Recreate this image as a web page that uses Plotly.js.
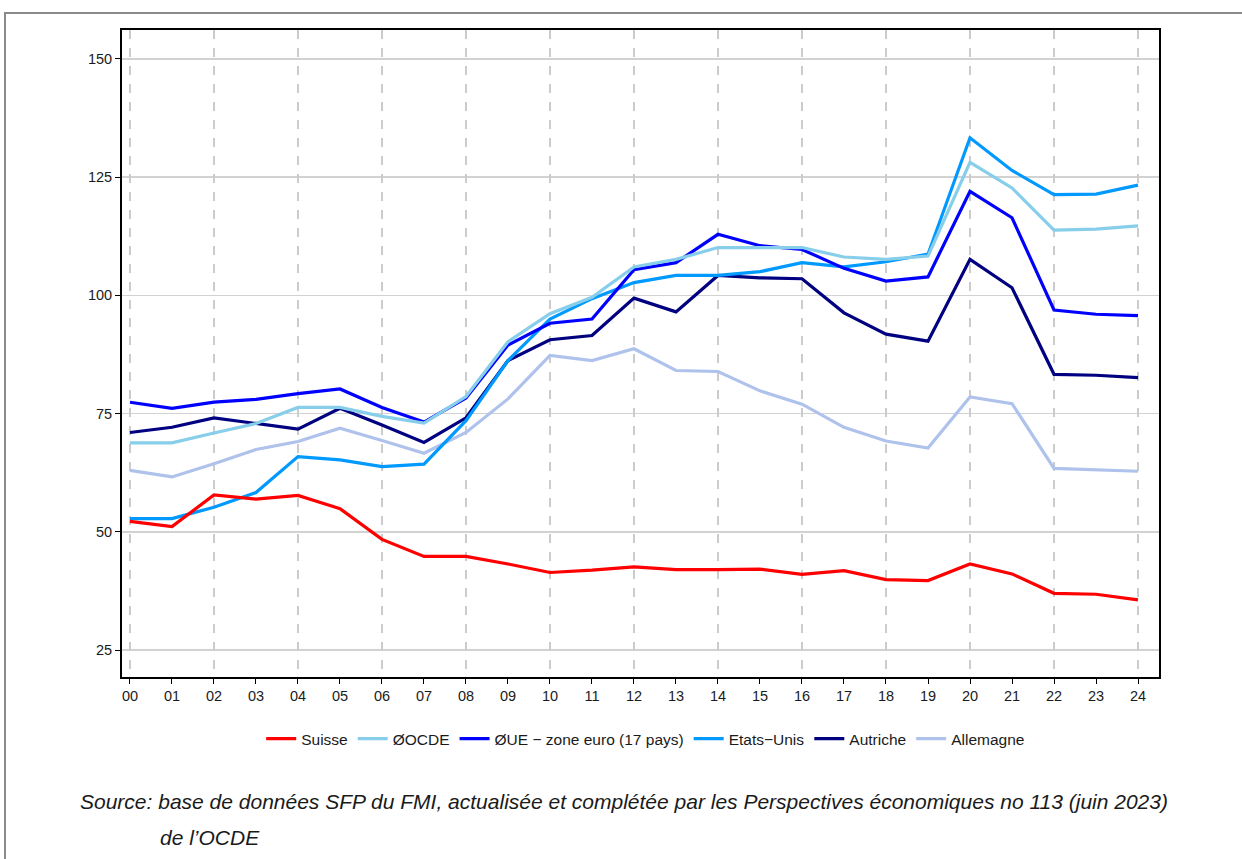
<!DOCTYPE html>
<html>
<head>
<meta charset="utf-8">
<script src="https://cdn.plot.ly/plotly-3.0.1.min.js"></script>
<style>
  html, body { margin:0; padding:0; background:#fff; }
  #wrap { position:relative; width:1242px; height:859px; }
  #chart { position:absolute; left:0; top:0; width:1242px; height:859px; }
  #frame { position:absolute; left:4px; top:12px; width:1238px; height:847px;
           border-top:2px solid #8a8a8a; border-left:2px solid #8a8a8a; box-sizing:border-box; pointer-events:none; }
</style>
</head>
<body>
<div id="wrap"><div id="chart"></div><div id="frame"></div></div>
<script>
const years = ["00","01","02","03","04","05","06","07","08","09","10","11","12","13","14","15","16","17","18","19","20","21","22","23","24"];
const gridYears = ["00","02","04","06","08","10","12","14","16","18","20","22","24"];
const yTicks = [25, 50, 75, 100, 125, 150];

const suisse    = [52.2, 51.1, 57.8, 56.9, 57.7, 54.9, 48.4, 44.8, 44.8, 43.2, 41.4, 41.9, 42.6, 42.0, 42.0, 42.1, 41.0, 41.8, 39.9, 39.7, 43.2, 41.1, 37.0, 36.8, 35.6];
const ocde      = [68.8, 68.8, 70.9, 72.9, 76.3, 76.3, 74.4, 73.0, 78.6, 90.2, 96.1, 99.6, 106.0, 107.6, 110.1, 110.1, 110.1, 108.1, 107.6, 108.3, 128.1, 122.7, 113.8, 114.0, 114.7];
const ue        = [77.4, 76.1, 77.4, 78.0, 79.2, 80.2, 76.3, 73.2, 78.3, 89.5, 94.1, 95.0, 105.4, 106.9, 112.9, 110.5, 109.7, 105.7, 103.0, 103.9, 122.0, 116.4, 96.9, 96.0, 95.7];
const etatsUnis = [52.8, 52.8, 55.2, 58.3, 65.9, 65.2, 63.8, 64.3, 73.5, 86.2, 95.0, 99.3, 102.7, 104.2, 104.2, 105.0, 106.9, 106.0, 107.1, 108.7, 133.3, 126.4, 121.3, 121.4, 123.3];
const autriche  = [71.0, 72.1, 74.1, 72.9, 71.7, 76.1, 72.6, 68.9, 74.1, 86.2, 90.6, 91.5, 99.4, 96.5, 104.2, 103.7, 103.5, 96.3, 91.8, 90.3, 107.6, 101.6, 83.3, 83.1, 82.6];
const allemagne = [63.0, 61.6, 64.4, 67.4, 69.1, 71.9, 69.3, 66.6, 71.0, 78.1, 87.3, 86.2, 88.7, 84.1, 83.9, 79.8, 77.0, 72.1, 69.2, 67.7, 78.5, 77.1, 63.4, 63.1, 62.8];

const seriesNames = ["Suisse", "ØOCDE", "ØUE − zone euro (17 pays)", "Etats−Unis", "Autriche", "Allemagne"];
const seriesData  = [suisse, ocde, ue, etatsUnis, autriche, allemagne];
const seriesColors = ["#ff0000", "#87ceeb", "#0000ff", "#0099ff", "#000080", "#afc2ec"];

const FONT = "Liberation Sans, Arial, Helvetica, sans-serif";

const traces = [];
// invisible trace on x2 to enable the dashed vertical grid every two years
traces.push({x: years, y: years.map(() => null), xaxis: "x2", yaxis: "y", mode: "lines",
             showlegend: false, hoverinfo: "skip"});
for (let i = seriesNames.length - 1; i >= 0; i--) {
  traces.push({
    x: years, y: seriesData[i], name: seriesNames[i], type: "scatter", mode: "lines",
    line: {color: seriesColors[i], width: 3.2}
  });
}

const xr = [-0.19, 24.5];
const layout = {
  width: 1242, height: 859,
  margin: {l: 122, r: 83, t: 30, b: 182},
  paper_bgcolor: "#ffffff", plot_bgcolor: "#ffffff",
  font: {family: FONT, size: 14, color: "#1a1a1a"},
  showlegend: true,
  legend: {orientation: "h", x: 0.505, xanchor: "center", y: -0.096, yanchor: "middle",
           traceorder: "reversed", font: {family: FONT, size: 15.5, color: "#1a1a1a"},
           itemwidth: 30, tracegroupgap: 0},
  xaxis: {type: "category", range: xr, showgrid: false, zeroline: false,
          showline: true, linecolor: "#000", linewidth: 2, mirror: true,
          ticks: "outside", ticklen: 5, tickwidth: 1, tickcolor: "#000",
          tickfont: {family: FONT, size: 14.5, color: "#1a1a1a"}},
  xaxis2: {type: "category", overlaying: "x", range: xr, tickmode: "array", tickvals: gridYears,
           showticklabels: false, ticks: "", showgrid: true, gridcolor: "#cccccc",
           griddash: "dash", gridwidth: 1.5, zeroline: false, showline: false, layer: "below traces"},
  yaxis: {range: [19.3, 156.1], tickmode: "array", tickvals: yTicks, showgrid: true,
          gridcolor: "#d2d2d2", gridwidth: 1.5, zeroline: false,
          showline: true, linecolor: "#000", linewidth: 2, mirror: true,
          ticks: "outside", ticklen: 5, tickwidth: 1, tickcolor: "#000",
          tickfont: {family: FONT, size: 14.5, color: "#1a1a1a"}},
  annotations: [
    {text: "<i>Source: base de données SFP du FMI, actualisée et complétée par les Perspectives économiques no 113 (juin 2023)</i>",
     xref: "paper", yref: "paper", x: -0.0424, y: -0.1917, xanchor: "left", yanchor: "middle",
     showarrow: false, font: {family: FONT, size: 21, color: "#1a1a1a"}},
    {text: "<i>de l’OCDE</i>",
     xref: "paper", yref: "paper", x: 0.0347, y: -0.2488, xanchor: "left", yanchor: "middle",
     showarrow: false, font: {family: FONT, size: 21, color: "#1a1a1a"}}
  ]
};

Plotly.newPlot("chart", traces, layout, {displayModeBar: false, staticPlot: true});
</script>
</body>
</html>
